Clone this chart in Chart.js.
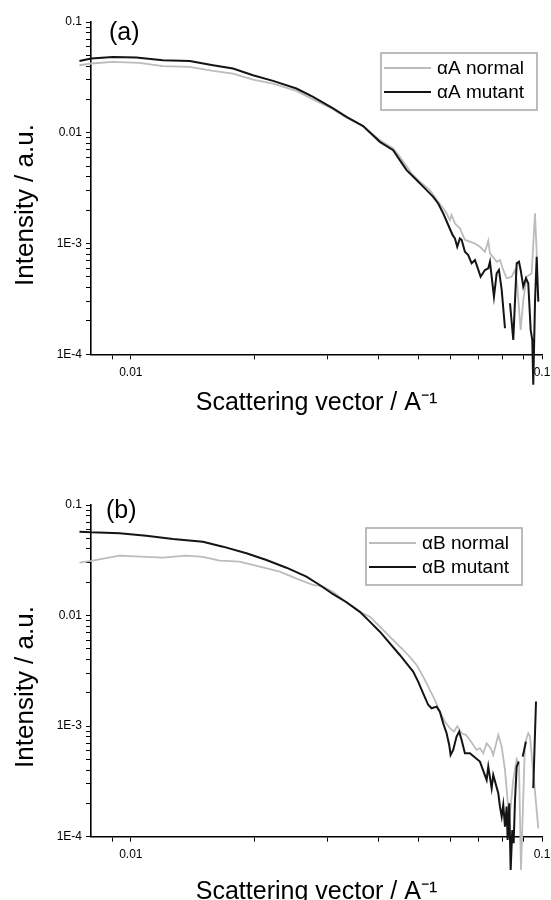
<!DOCTYPE html>
<html><head><meta charset="utf-8">
<script src="https://cdn.jsdelivr.net/npm/chart.js@4.4.1/dist/chart.umd.min.js"></script>
<style>
html,body{margin:0;padding:0;background:#fff;overflow:hidden;width:551px;height:900px;position:relative;}
#wa{position:absolute;left:0;top:0;width:551px;height:450px;}
#wb{position:absolute;left:0;top:450px;width:551px;height:470px;}
canvas{display:block;}
</style></head><body>
<div id="wa"><canvas id="ca" width="551" height="450"></canvas></div>
<div id="wb"><canvas id="cb" width="551" height="470"></canvas></div>
<script>
// ---------- data ----------
const seriesLabels = ['\u03b1A normal', '\u03b1A mutant', '\u03b1B normal', '\u03b1B mutant'];
const panelLabels = ['(a)', '(b)'];

const qANormal = [0.00750,0.00801,0.00904,0.01050,0.01196,0.01390,0.01584,0.01772,0.01982,0.02218,0.02527,0.02775,0.03104,0.03346,0.03672,0.04033,0.04345,0.04510,0.04816,0.05047,0.05337,0.05592,0.05751,0.05861,0.05970,0.06026,0.06141,0.06314,0.06494,0.06677,0.06869,0.07063,0.07265,0.07402,0.07472,0.07611,0.07758,0.07902,0.08050,0.08204,0.08438,0.08597,0.08709,0.08874,0.09005,0.09177,0.09437,0.09616,0.09741];
const iANormal = [0.0407,0.0422,0.0436,0.0427,0.0399,0.0393,0.0362,0.0342,0.0302,0.0278,0.0239,0.0200,0.0163,0.0137,0.0115,0.00857,0.00722,0.00606,0.00430,0.00361,0.00304,0.00238,0.00208,0.00187,0.00163,0.00181,0.00152,0.00137,0.00108,0.00104,0.00100,0.000935,0.000843,0.00106,0.000816,0.000751,0.000685,0.000710,0.000577,0.000486,0.000502,0.000577,0.000408,0.000166,0.000309,0.000502,0.000539,0.00187,0.000618];

const qAMutant = [0.00750,0.00801,0.00904,0.01031,0.01196,0.01390,0.01584,0.01772,0.01982,0.02218,0.02527,0.02775,0.03104,0.03346,0.03672,0.04033,0.04345,0.04510,0.04684,0.04954,0.05189,0.05437,0.05592,0.05751,0.05915,0.06063,0.06141,0.06221,0.06314,0.06375,0.06494,0.06615,0.06743,0.06869,0.06958,0.07091,0.07265,0.07402,0.07472,0.07543,0.07641,0.07758,0.07858,0.07979,0.08128,0.08240,0.08359,0.08514,0.08678,0.08790,0.08874,0.09005,0.09141,0.09259,0.09386,0.09470,0.09523,0.09616,0.09707,0.09795];
const iAMutant = [0.0445,0.0468,0.0483,0.0478,0.0452,0.0445,0.0407,0.0380,0.0331,0.0294,0.0251,0.0211,0.0166,0.0139,0.0115,0.00828,0.00697,0.00566,0.00460,0.00374,0.00315,0.00264,0.00230,0.00187,0.00147,0.00119,0.00111,0.000935,0.00111,0.00108,0.000843,0.000787,0.000663,0.000710,0.000618,0.000502,0.000577,0.000597,0.000685,0.000502,0.000331,0.000539,0.000577,0.000381,0.000172,null,0.000289,0.000135,0.000663,0.000685,0.000577,0.000408,0.000486,0.000438,0.000166,0.000135,0.000053,0.000299,0.000760,0.000299];

const qBNormal = [0.00750,0.00801,0.00939,0.01090,0.01196,0.01364,0.01497,0.01644,0.01839,0.02058,0.02302,0.02575,0.02775,0.02935,0.03104,0.03346,0.03606,0.03813,0.04033,0.04510,0.04726,0.04954,0.05140,0.05337,0.05487,0.05644,0.05806,0.05970,0.06106,0.06221,0.06375,0.06532,0.06677,0.06934,0.07063,0.07197,0.07334,0.07502,0.07611,0.07828,0.07979,0.08128,0.08233,0.08325,0.08514,0.08678,0.08790,0.08890,0.09090,0.09259,0.09350,0.09795];
const iBNormal = [0.0301,0.0312,0.0348,0.0339,0.0334,0.0348,0.0339,0.0314,0.0307,0.0277,0.0250,0.0210,0.0189,0.0183,0.0163,0.0132,0.0108,0.00977,0.00794,0.00524,0.00440,0.00358,0.00280,0.00213,0.00173,0.00135,0.00110,0.000957,0.000892,0.00100,0.000862,0.000832,0.000750,0.000609,0.000631,0.000569,0.000700,0.000631,0.000549,0.000832,0.000653,0.000402,0.000230,0.000142,0.000326,0.000502,0.000462,0.0000501,0.000700,0.000862,0.000804,0.000119];

const qBMutant = [0.00750,0.00801,0.00939,0.01090,0.01266,0.01497,0.01675,0.01910,0.02137,0.02390,0.02673,0.02880,0.03104,0.03346,0.03606,0.03813,0.04033,0.04510,0.04684,0.04860,0.04998,0.05140,0.05286,0.05387,0.05540,0.05644,0.05751,0.05861,0.05947,0.05994,0.06081,0.06198,0.06289,0.06375,0.06494,0.06677,0.07063,0.07334,0.07402,0.07543,0.07611,0.07828,0.07902,0.07979,0.08050,0.08128,0.08204,0.08249,0.08325,0.08390,0.08466,0.08532,0.08597,0.08678,0.08777,0.08880,0.08974,0.09141,0.09350,0.09523,0.09670];
const iBMutant = [0.0574,0.0566,0.0555,0.0528,0.0493,0.0466,0.0420,0.0366,0.0318,0.0271,0.0225,0.0189,0.0156,0.0132,0.0108,0.00881,0.00715,0.00440,0.00370,0.00311,0.00253,0.00198,0.00156,0.00145,0.00150,0.00135,0.00106,0.000862,0.000676,0.000549,0.000609,0.000804,0.000892,0.000750,0.000569,0.000569,0.000478,0.000326,0.000430,0.000275,0.000362,0.000247,0.000187,0.000152,0.000194,0.000123,0.000187,0.0000935,0.000201,0.0000500,0.000115,0.0000873,0.000215,0.000430,0.000478,null,0.000530,0.000724,null,0.000275,0.00167];

// tick labels
const yTickValues = [0.0001, 0.001, 0.01, 0.1];
const yTickLabels = ['1E-4', '1E-3', '0.01', '0.1'];
const xTickValues = [0.01, 0.1];
const xTickLabels = ['0.01', '0.1'];
const yTitle = 'Intensity / a.u.';
const xTitle = 'Scattering vector / A\u207B\u00B9';

// ---------- rendering ----------
const FONT = "'Liberation Sans', Arial, Helvetica, sans-serif";
Chart.defaults.font.family = FONT;
Chart.defaults.color = '#000';

function pts(q, v) { return q.map((x, i) => ({ x: x, y: v[i] })); }
function labelFor(values, labels, v) {
  for (let i = 0; i < values.length; i++) if (Math.abs(v / values[i] - 1) < 1e-6) return labels[i];
  return '';
}
function minorTicks(decades) {
  const out = [];
  for (let d = 0; d < decades.length - 1; d++) for (let k = 1; k <= 9; k++) out.push(decades[d] * k);
  out.push(decades[decades.length - 1]);
  return out;
}
const yAllTicks = minorTicks(yTickValues);
const xAllTicks = [0.009].concat(minorTicks(xTickValues));

const boxLegend = {
  id: 'boxLegend',
  afterDraw(chart, args, o) {
    const ctx = chart.ctx;
    ctx.save();
    ctx.fillStyle = '#fff';
    ctx.fillRect(o.left, o.top, o.width, o.height);
    ctx.strokeStyle = o.borderColor; ctx.lineWidth = o.borderWidth;
    ctx.strokeRect(o.left, o.top, o.width, o.height);
    chart.data.datasets.forEach((ds, i) => {
      const y = o.top + o.firstRow + i * o.rowGap;
      ctx.strokeStyle = ds.borderColor; ctx.lineWidth = ds.borderWidth;
      ctx.beginPath(); ctx.moveTo(o.left + o.lineStart, y); ctx.lineTo(o.left + o.lineEnd, y); ctx.stroke();
      ctx.fillStyle = '#000'; ctx.font = o.fontSize + 'px ' + FONT;
      ctx.textBaseline = 'middle'; ctx.textAlign = 'left';
      ctx.fillText(ds.label, o.left + o.textX, y + 1);
    });
    ctx.restore();
  }
};
const extraText = {
  id: 'extraText',
  afterDraw(chart, args, o) {
    const ctx = chart.ctx;
    ctx.save();
    ctx.fillStyle = '#000';
    ctx.font = o.panelSize + 'px ' + FONT;
    ctx.textAlign = 'left'; ctx.textBaseline = 'middle';
    ctx.fillText(o.panel, o.panelX, o.panelY);
    ctx.translate(o.yTitleX, o.yTitleY);
    ctx.rotate(-Math.PI / 2);
    ctx.font = o.yTitleSize + 'px ' + FONT;
    ctx.textAlign = 'center';
    ctx.fillText(o.yTitle, 0, 0);
    ctx.restore();
  }
};

function makeChart(id, normalQ, normalI, mutantQ, mutantI, lblN, lblM, cfg) {
  return new Chart(document.getElementById(id), {
    type: 'line',
    data: {
      datasets: [
        { label: lblN, data: pts(normalQ, normalI), borderColor: '#bcbcbc', borderWidth: 1.8, pointRadius: 0, tension: 0, clip: false, spanGaps: false, order: 1 },
        { label: lblM, data: pts(mutantQ, mutantI), borderColor: '#141414', borderWidth: 2, pointRadius: 0, tension: 0, clip: false, spanGaps: false, order: 0 }
      ]
    },
    options: {
      responsive: false, animation: false, events: [],
      layout: { padding: { left: 0, right: 9, top: cfg.top, bottom: 0 } },
      plugins: {
        legend: { display: false }, tooltip: { enabled: false },
        boxLegend: { left: cfg.legLeft, top: cfg.legTop, width: 156, height: 57, firstRow: 15, rowGap: 24, lineStart: 3, lineEnd: 50, textX: 56, fontSize: 19, borderColor: '#a6a6a6', borderWidth: 1.5 },
        extraText: { panel: cfg.panel, panelX: cfg.panelX, panelY: cfg.panelY, panelSize: 25, yTitle: yTitle, yTitleX: 25.5, yTitleY: cfg.yTitleY, yTitleSize: 26 }
      },
      scales: {
        x: {
          type: 'logarithmic', min: 0.008, max: 0.1, bounds: 'data',
          afterBuildTicks: s => { s.ticks = xAllTicks.map(v => ({ value: v })); },
          afterFit: s => { s.height = cfg.xHeight; s.paddingLeft = 0; s.paddingRight = 0; },
          ticks: { autoSkip: false, maxRotation: 0, minRotation: 0, padding: 6, font: { size: 12 }, color: '#000',
            callback: v => labelFor(xTickValues, xTickLabels, v) },
          grid: { display: true, drawOnChartArea: false, drawTicks: true, tickLength: 5, tickColor: '#000', tickWidth: 1 },
          border: { display: true, color: '#000', width: 1.6 },
          title: { display: true, text: xTitle, color: '#000', font: { size: 25 }, padding: { top: 0, bottom: cfg.xTitlePad } }
        },
        y: {
          type: 'logarithmic', min: 0.0001, max: 0.1, bounds: 'data',
          afterBuildTicks: s => { s.ticks = yAllTicks.map(v => ({ value: v })); },
          afterFit: s => { s.width = 91; s.paddingTop = 0; s.paddingBottom = 0; },
          ticks: { autoSkip: false, padding: 4, font: { size: 12 }, color: '#000',
            callback: v => labelFor(yTickValues, yTickLabels, v) },
          grid: { display: true, drawOnChartArea: false, drawTicks: true, tickLength: 5, tickColor: '#000', tickWidth: 1 },
          border: { display: true, color: '#000', width: 1.6 },
          title: { display: false }
        }
      }
    },
    plugins: [boxLegend, extraText]
  });
}

makeChart('ca', qANormal, iANormal, qAMutant, iAMutant, seriesLabels[0], seriesLabels[1],
  { top: 22, xHeight: 95.7, xTitlePad: 32, legLeft: 381, legTop: 53, panel: panelLabels[0], panelX: 109, panelY: 33, yTitleY: 205 });
makeChart('cb', qBNormal, iBNormal, qBMutant, iBMutant, seriesLabels[2], seriesLabels[3],
  { top: 55, xHeight: 83.3, xTitlePad: 13, legLeft: 366, legTop: 78, panel: panelLabels[1], panelX: 106, panelY: 61, yTitleY: 237 });
</script></body></html>
